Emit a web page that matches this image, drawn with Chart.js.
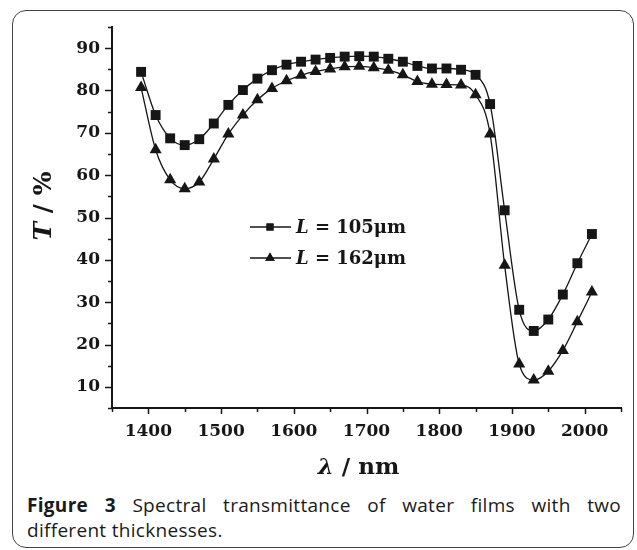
<!DOCTYPE html>
<html>
<head>
<meta charset="utf-8">
<script src="https://cdn.jsdelivr.net/npm/chart.js@4.4.1/dist/chart.umd.min.js"></script>
<style>
  body { margin: 0; background: #fff; width: 637px; height: 550px; position: relative; overflow: hidden; }
  .frame { position: absolute; left: 12px; top: 10px; width: 620px; height: 536px; border: 1.5px solid #444; border-radius: 14px; }
  #chart { position: absolute; left: 0; top: 0; }
  .caption { position: absolute; left: 27px; top: 493px; width: 594px; font-family: "Open Sans", sans-serif; font-size: 19px; letter-spacing: 0.3px; line-height: 25px; color: #1a1a1a; }
  .caption .l1 { text-align: justify; text-align-last: justify; white-space: nowrap; }
</style>
</head>
<body>
<div class="frame"></div>
<canvas id="chart" width="637" height="490"></canvas>
<div class="caption">
  <div class="l1"><b>Figure 3</b> Spectral transmittance of water films with two</div>
  <div>different thicknesses.</div>
</div>
<script>
// wavelength in nm
const wavelength = [1390, 1410, 1430, 1450, 1470, 1490, 1510, 1530, 1550, 1570, 1590, 1610, 1630, 1650, 1670, 1690,
                    1710, 1730, 1750, 1770, 1790, 1810, 1830, 1850, 1870, 1890, 1910, 1930, 1950, 1970, 1990, 2010];
// transmittance %, L = 105um (squares)
const t105 = [84.4, 74.2, 68.7, 67.1, 68.5, 72.2, 76.6, 80.1, 82.8, 84.8, 86.1, 86.8, 87.3, 87.7, 88.0, 88.1,
              88.0, 87.5, 86.8, 85.8, 85.2, 85.2, 84.9, 83.7, 76.8, 51.7, 28.2, 23.2, 25.9, 31.8, 39.2, 46.1];
// transmittance %, L = 162um (triangles)
const t162 = [80.7, 66.0, 58.9, 56.8, 58.4, 63.8, 69.7, 74.2, 77.8, 80.5, 82.3, 83.6, 84.5, 85.1, 85.6, 85.7,
              85.4, 84.8, 83.7, 82.1, 81.5, 81.4, 81.3, 79.0, 69.7, 38.7, 15.4, 11.6, 13.7, 18.6, 25.4, 32.4];
const seriesNames = ["105\u03bcm", "162\u03bcm"];
const yTicks = [10, 20, 30, 40, 50, 60, 70, 80, 90];
const xTicks = [1400, 1500, 1600, 1700, 1800, 1900, 2000];

const ink = "#161616";
const serif = "'DejaVu Serif', serif";

function toPoints(ys) {
  return wavelength.map((x, i) => ({ x: x, y: ys[i] }));
}

// minor/major ticks, axis titles and the in-plot legend
const decorations = {
  id: "decorations",
  afterDraw(chart) {
    const ctx = chart.ctx;
    const xs = chart.scales.x, ys = chart.scales.y;
    const area = chart.chartArea;
    ctx.save();
    ctx.strokeStyle = ink;
    ctx.lineWidth = 1.5;

    for (let v = ys.min; v <= ys.max; v += 5) {
      const py = Math.round(ys.getPixelForValue(v)) + 0.5;
      const len = yTicks.includes(v) ? 7 : 4;
      ctx.beginPath();
      ctx.moveTo(area.left, py);
      ctx.lineTo(area.left - len, py);
      ctx.stroke();
    }
    for (let v = xs.min; v <= xs.max; v += 50) {
      const px = Math.round(xs.getPixelForValue(v)) + 0.5;
      const len = xTicks.includes(v) ? 6 : 4;
      ctx.beginPath();
      ctx.moveTo(px, area.bottom);
      ctx.lineTo(px, area.bottom + len);
      ctx.stroke();
    }

    // axis titles
    ctx.fillStyle = ink;
    ctx.textBaseline = "middle";
    const drawMixed = (parts, cx, cy) => {
      let total = 0;
      parts.forEach(p => { ctx.font = p.font; p.w = ctx.measureText(p.text).width; total += p.w; });
      let x = cx - total / 2;
      ctx.textAlign = "left";
      parts.forEach(p => { ctx.font = p.font; ctx.fillText(p.text, x, cy); x += p.w; });
    };
    drawMixed([
      { text: "\u03bb", font: "italic bold 23px " + serif },
      { text: " / nm", font: "bold 23px " + serif }
    ], (area.left + area.right) / 2 - 8, 468);

    ctx.save();
    ctx.translate(44, 206);
    ctx.rotate(-Math.PI / 2);
    drawMixed([
      { text: "T", font: "italic bold 25px " + serif },
      { text: " / %", font: "bold 25px " + serif }
    ], 0, 0);
    ctx.restore();

    // legend
    chart.data.datasets.forEach((ds, i) => {
      const ly = 227 + i * 31;
      ctx.strokeStyle = ds.borderColor;
      ctx.lineWidth = ds.borderWidth;
      ctx.beginPath();
      ctx.moveTo(250, ly);
      ctx.lineTo(291, ly);
      ctx.stroke();
      Chart.helpers.drawPoint(ctx, { pointStyle: ds.pointStyle, radius: ds.pointStyle === "rect" ? 5 : 5.5, borderWidth: 0 }, 270, ly);
      ctx.fillStyle = ink;
      ctx.fill();
      ctx.textBaseline = "middle";
      ctx.textAlign = "left";
      ctx.font = "italic bold 18px " + serif;
      ctx.fillText("L", 296, ly + 1);
      const lw = ctx.measureText("L").width;
      ctx.font = "bold 18px " + serif;
      ctx.fillText(" = " + seriesNames[i], 296 + lw, ly + 1);
    });
    ctx.restore();
  }
};

const lineStyle = {
  borderColor: ink,
  backgroundColor: ink,
  pointBackgroundColor: ink,
  pointBorderWidth: 0,
  borderWidth: 1.3,
  pointRadius: 7,
  cubicInterpolationMode: "monotone",
  fill: false
};

new Chart(document.getElementById("chart"), {
  type: "line",
  data: {
    datasets: [
      Object.assign({ label: "L = " + seriesNames[0], data: toPoints(t105), pointStyle: "rect" }, lineStyle),
      Object.assign({ label: "L = " + seriesNames[1], data: toPoints(t162), pointStyle: "triangle" }, lineStyle)
    ]
  },
  options: {
    responsive: false,
    animation: false,
    layout: { padding: { top: 27, right: 16, left: 0, bottom: 0 } },
    plugins: { legend: { display: false }, tooltip: { enabled: false } },
    scales: {
      x: {
        type: "linear",
        min: 1350,
        max: 2050,
        border: { display: true, color: ink, width: 2 },
        grid: { drawOnChartArea: false, drawTicks: false },
        afterFit: s => { s.height = 82; },
        afterBuildTicks: s => { s.ticks = xTicks.map(v => ({ value: v })); },
        ticks: {
          autoSkip: false,
          maxRotation: 0,
          padding: 13,
          color: ink,
          font: { family: serif, weight: "bold", size: 17 },
          callback: v => String(v)
        }
      },
      y: {
        min: 5,
        max: 95,
        border: { display: true, color: ink, width: 2 },
        grid: { drawOnChartArea: false, drawTicks: false },
        afterFit: s => { s.width = 112; },
        afterBuildTicks: s => { s.ticks = yTicks.map(v => ({ value: v })); },
        ticks: {
          autoSkip: false,
          padding: 12,
          color: ink,
          font: { family: serif, weight: "bold", size: 17 },
          callback: v => String(v)
        }
      }
    }
  },
  plugins: [decorations]
});
</script>
</body>
</html>
